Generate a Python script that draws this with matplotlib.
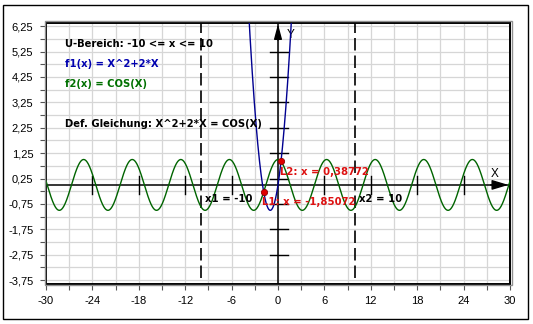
import numpy as np
import matplotlib
matplotlib.use("Agg")
import matplotlib.pyplot as plt
from matplotlib.patches import Rectangle

# ---- data ----
x_range = (-30, 30)
y_range = (-3.9, 6.385)
x_tick_labels = ["-30", "-24", "-18", "-12", "-6", "0", "6", "12", "18", "24", "30"]
x_tick_values = [-30, -24, -18, -12, -6, 0, 6, 12, 18, 24, 30]
y_tick_values = [6.25, 5.25, 4.25, 3.25, 2.25, 1.25, 0.25, -0.75, -1.75, -2.75, -3.75]
y_tick_labels = ["6,25", "5,25", "4,25", "3,25", "2,25", "1,25", "0,25",
                 "-0,75", "-1,75", "-2,75", "-3,75"]
bounds = [-10, 10]
bound_labels = ["x1 = -10", "x2 = 10"]
roots = [-1.85072, 0.38772]
root_labels = ["L1: x = -1,85072", "L2: x = 0,38772"]
title_lines = ["U-Bereich: -10 <= x <= 10", "f1(x) = X^2+2*X", "f2(x) = COS(X)",
               "Def. Gleichung: X^2+2*X = COS(X)"]


def f1(x):
    return x ** 2 + 2 * x


def f2(x):
    return np.cos(x)


W, H = 533, 324
fig = plt.figure(figsize=(W / 100, H / 100), dpi=100)
fig.patch.set_facecolor("white")

# outer border
fig.patches.append(Rectangle((3 / W, 1 - 319 / H), 525 / W, 314 / H, transform=fig.transFigure,
                             fill=False, edgecolor="black", linewidth=1.0))
# gray outer frame line (3D look)
fig.patches.append(Rectangle((44.8 / W, 1 - 285.2 / H), 466.8 / W, 264 / H, transform=fig.transFigure,
                             fill=False, edgecolor="#909090", linewidth=1.0))

ax = fig.add_axes([46 / W, 1 - 284 / H, 464 / W, (284 - 22.7) / H])
ax.set_xlim(*x_range)
ax.set_ylim(*y_range)

TICKFONT = "Liberation Sans"
BOLDFONT = "DejaVu Sans"

# grid
for gx in np.arange(-27, 30, 3):
    ax.axvline(gx, color="#d6d6d6", lw=0.9, zorder=0)
for gy in np.arange(-3.75, 6.3, 0.5):
    ax.axhline(gy, color="#d6d6d6", lw=0.9, zorder=0)

# ticks outside frame
ax.set_xticks(np.arange(-30, 31, 3), minor=True)
ax.set_xticks(x_tick_values)
ax.set_xticklabels(x_tick_labels, fontfamily=TICKFONT, fontsize=8)
ax.set_yticks(np.arange(-3.75, 6.3, 0.5), minor=True)
ax.set_yticks(y_tick_values)
ax.set_yticklabels(y_tick_labels, fontfamily=TICKFONT, fontsize=8)
ax.tick_params(which="both", direction="out", length=4, width=0.8, color="#555555")
ax.tick_params(axis="x", pad=5)
ax.tick_params(axis="y", pad=5)
for s in ax.spines.values():
    s.set_linewidth(1.4)
    s.set_color("black")

# coordinate axes
ax.plot([x_range[0], x_range[1]], [0, 0], color="black", lw=1.1, zorder=3)
ax.plot([0, 0], [y_range[0], y_range[1]], color="black", lw=1.1, zorder=3)
ax.annotate("", xy=(29.8, 0), xytext=(27.5, 0),
            arrowprops=dict(arrowstyle="-|>,head_length=1.0,head_width=0.3", mutation_scale=10,
                            color="black", lw=1.0, shrinkA=0, shrinkB=0), zorder=4)
ax.annotate("", xy=(0, 6.33), xytext=(0, 5.7),
            arrowprops=dict(arrowstyle="-|>,head_length=0.9,head_width=0.24", mutation_scale=10,
                            color="black", lw=1.0, shrinkA=0, shrinkB=0), zorder=4)
ax.text(28.06, 0.43, "X", fontfamily=TICKFONT, fontsize=8.5, ha="center", va="center")
ax.text(1.64, 5.92, "Y", fontfamily=TICKFONT, fontsize=8.5, ha="center", va="center")

# axis tick marks on the coordinate axes
for tx in [-24, -18, -12, -6, 6, 12, 18, 24]:
    ax.plot([tx, tx], [-0.37, 0.35], color="black", lw=1.0, zorder=3)
for ty in [5.25, 4.25, 3.25, 2.25, 1.25, 0.25, -0.75, -1.75, -2.75]:
    ax.plot([-1.05, 1.3], [ty, ty], color="black", lw=1.0, zorder=3)

# bounds
ax.vlines(bounds, -3.65, y_range[1], colors="black", linewidth=1.2,
          linestyles=[(0, (7.5, 3))], zorder=3)
for b, lab in zip(bounds, bound_labels):
    ax.text(b + 0.5, -0.66, lab, fontfamily=BOLDFONT, fontsize=7.3, fontweight="bold",
            ha="left", va="baseline", zorder=5)

# curves
xs = np.linspace(x_range[0], x_range[1], 3000)
ax.plot(xs, f2(xs), color="#006400", lw=1.0, zorder=4)
ax.plot(xs, f1(xs), color="#000090", lw=1.0, zorder=4)

# roots
for r, lab in zip(roots, root_labels):
    ax.plot([r], [f2(r)], "o", ms=4.5, mfc="#e00000", mec="#900000", mew=0.6, zorder=6)
    ax.annotate(lab, xy=(r, f2(r)), xytext=(-1, -9.6), textcoords="offset points",
                fontfamily=BOLDFONT, fontsize=7.3, fontweight="bold", color="#dd1111",
                ha="left", va="baseline", zorder=6)

# header texts
text_y = [5.44, 4.65, 3.86, 2.29]
text_c = ["black", "#0000b0", "#007000", "black"]
for t, yy, c in zip(title_lines, text_y, text_c):
    ax.text(-27.54, yy, t, fontfamily=BOLDFONT, fontsize=7.2, fontweight="bold", color=c,
            ha="left", va="baseline", zorder=5)

fig.savefig("out.png", dpi=100)
